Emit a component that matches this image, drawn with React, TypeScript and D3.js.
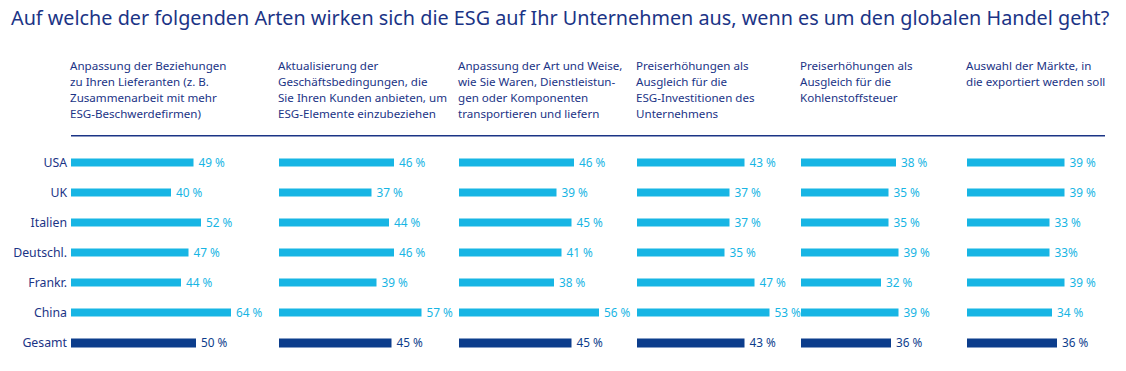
import React from "react";
import * as d3 from "d3";

const title =
  "Auf welche der folgenden Arten wirken sich die ESG auf Ihr Unternehmen aus, wenn es um den globalen Handel geht?";

const countries = ["USA", "UK", "Italien", "Deutschl.", "Frankr.", "China", "Gesamt"];

const headers: string[][] = [
  ["Anpassung der Beziehungen", "zu Ihren Lieferanten (z. B.", "Zusammenarbeit mit mehr", "ESG-Beschwerdefirmen)"],
  ["Aktualisierung der", "Geschäftsbedingungen, die", "Sie Ihren Kunden anbieten, um", "ESG-Elemente einzubeziehen"],
  ["Anpassung der Art und Weise,", "wie Sie Waren, Dienstleistun-", "gen oder Komponenten", "transportieren und liefern"],
  ["Preiserhöhungen als", "Ausgleich für die", "ESG-Investitionen des", "Unternehmens"],
  ["Preiserhöhungen als", "Ausgleich für die", "Kohlenstoffsteuer"],
  ["Auswahl der Märkte, in", "die exportiert werden soll"],
];

const values: number[][] = [
  [49, 40, 52, 47, 44, 64, 50],
  [46, 37, 44, 46, 39, 57, 45],
  [46, 39, 45, 41, 38, 56, 45],
  [43, 37, 37, 35, 47, 53, 43],
  [38, 35, 35, 39, 32, 39, 36],
  [39, 39, 33, 33, 39, 34, 36],
];

const valueLabels: string[][] = [
  ["49 %", "40 %", "52 %", "47 %", "44 %", "64 %", "50 %"],
  ["46 %", "37 %", "44 %", "46 %", "39 %", "57 %", "45 %"],
  ["46 %", "39 %", "45 %", "41 %", "38 %", "56 %", "45 %"],
  ["43 %", "37 %", "37 %", "35 %", "47 %", "53 %", "43 %"],
  ["38 %", "35 %", "35 %", "39 %", "32 %", "39 %", "36 %"],
  ["39 %", "39 %", "33 %", "33%", "39 %", "34 %", "36 %"],
];

const panelStarts = [71, 279, 459, 637, 801, 967];

const LIGHT = "#17b5e4";
const DARK = "#0c3d8c";
const NAVY = "#1b3486";
const FONT = "'Noto Sans', sans-serif";

export default function App() {
  const W = 1126;
  const H = 371;
  const y = d3
    .scaleBand<string>()
    .domain(countries)
    .range([147.5, 357.5])
    .paddingInner(0.72)
    .paddingOuter(0.36);
  const bh = 8;
  const x = d3.scaleLinear().domain([0, 100]).range([0, 250]);

  return (
    <svg
      width={W}
      height={H}
      style={{ position: "absolute", left: 0, top: 0, background: "#fff" }}
      fontFamily={FONT}
    >
      <rect x={0} y={0} width={W} height={H} fill="#fff" />
      <text x={11} y={25} fontSize={19.8} fill={NAVY}>
        {title}
      </text>
      {headers.map((lines, i) => (
        <text key={"h" + i} x={panelStarts[i] - 1} y={70} fontSize={11.6} fill={NAVY}>
          {lines.map((l, j) => (
            <tspan key={j} x={panelStarts[i] - 1} y={70 + j * 16}>
              {l}
            </tspan>
          ))}
        </text>
      ))}
      <line x1={71} x2={1105} y1={135.8} y2={135.8} stroke={NAVY} strokeWidth={1.6} />
      {countries.map((c) => {
        const cy = (y(c) as number) + y.bandwidth() / 2;
        return (
          <text
            key={c}
            x={67}
            y={cy}
            dy="0.36em"
            textAnchor="end"
            fontSize={12.3}
            fill={NAVY}
          >
            {c}
          </text>
        );
      })}
      {values.map((vals, i) => (
        <g key={"p" + i} transform={`translate(${panelStarts[i]},0)`}>
          {vals.map((v, j) => {
            const c = countries[j];
            const cy = (y(c) as number) + y.bandwidth() / 2;
            const isTotal = c === "Gesamt";
            return (
              <g key={c}>
                <rect
                  x={0}
                  y={cy - bh / 2}
                  width={x(v)}
                  height={isTotal ? bh + 1 : bh}
                  fill={isTotal ? DARK : LIGHT}
                />
                <text
                  x={x(v) + 5}
                  y={cy}
                  dy="0.38em"
                  fontSize={11.8}
                  fill={isTotal ? DARK : LIGHT}
                >
                  {valueLabels[i][j]}
                </text>
              </g>
            );
          })}
        </g>
      ))}
    </svg>
  );
}
